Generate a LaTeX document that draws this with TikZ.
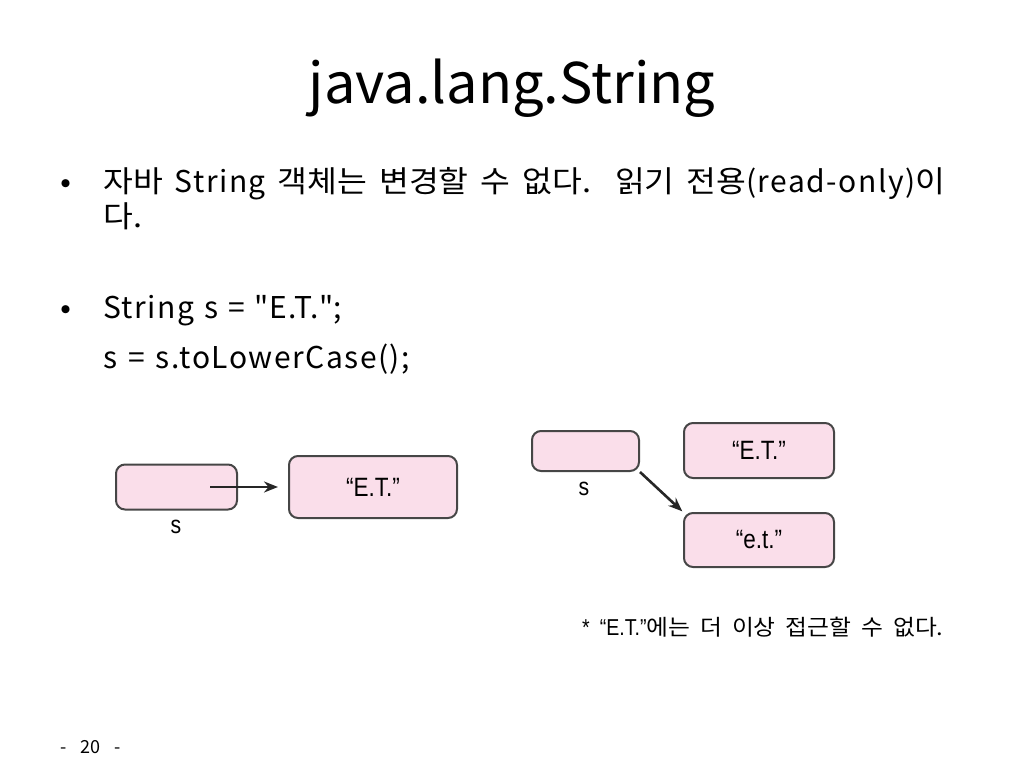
\documentclass[tikz,border=0pt]{standalone}
\usepackage{fontspec}
\setmainfont{Noto Sans CJK KR}[LetterSpace=5]
\newfontfamily\krf{Noto Sans CJK KR}
\newfontfamily\krw{Noto Sans CJK KR}[FakeStretch=1.08]
\newfontfamily\arialf{Liberation Sans}[FakeStretch=0.85]
\usetikzlibrary{arrows.meta}
\definecolor{boxpink}{RGB}{250,222,234}
\definecolor{boxline}{RGB}{70,70,70}
\newcommand\kr[1]{{\krw\fontsize{30}{36}\selectfont #1}}
\newcommand\krs[1]{{\krw\fontsize{22}{26}\selectfont #1}}
\newcommand\wsp[1]{\spaceskip=#1\relax}

\begin{document}
\begin{tikzpicture}[x=1pt,y=-1pt,
    strbox/.style={draw=boxline,fill=boxpink,line width=2pt,rounded corners=9pt,inner sep=0pt,font=\arialf\fontsize{26.5}{30}\selectfont},
    lbl/.style={font=\arialf\fontsize{25}{28}\selectfont},
    ptr/.style={-{Stealth[length=14pt,width=11pt]},line width=2.6pt,draw=black!85},
    txt/.style={anchor=base west,inner sep=0pt,font=\fontsize{30}{36}\selectfont}]
    \useasboundingbox (0,0) rectangle (1024,768);
    % title
    \node (title) at (512,88) {\krf\fontsize{56}{64}\selectfont java.lang.String};
    % bullets
    \node[txt] (b1) at (60,192) {\kr{•}};
    \node[txt] (l1) at (103,192) {\wsp{12pt}\kr{자바} String \kr{객체는 변경할 수 없다.}\ \ \kr{읽기 전용}(read-only)\kr{이}};
    \node[txt] (l2) at (103,227) {\kr{다.}};
    \node[txt] (b2) at (60,318) {\kr{•}};
    \node[txt] (l3) at (103,318) {\wsp{10pt}String s = \textquotedbl E.T.\textquotedbl;};
    \node[txt] (l4) at (103,368) {\wsp{11pt}s = s.toLowerCase();};
    % left picture
    \node[strbox,minimum width=121pt,minimum height=45pt] (s1) at (176.5,487) {};
    \node[lbl] (s1lbl) at (176,527) {s};
    \node[strbox,minimum width=168pt,minimum height=62pt] (et1) at (373,487) {“E.T.”};
    \coordinate (s1ref) at (210,487);
    \draw[ptr,shorten >=10pt] (s1ref) -- (et1.west);
    % right picture
    \node[strbox,minimum width=107pt,minimum height=40pt] (s2) at (585.5,451) {};
    \node[lbl] (s2lbl) at (584,489) {s};
    \node[strbox,minimum width=150pt,minimum height=55pt] (et2) at (759,450.5) {“E.T.”};
    \node[strbox,minimum width=150pt,minimum height=54pt] (lower) at (759,540) {“e.t.”};
    \draw[ptr,shorten >=1pt] (s2.south east) -- (lower.north west);
    % note
    \node[anchor=base west,inner sep=0pt,font=\arialf\fontsize{23}{26}\selectfont] (note) at (582,635) {\wsp{10pt}* “E.T.”\krs{에는 더 이상 접근할 수 없다.}};
    \node[anchor=base west,inner sep=0pt,font=\krf\fontsize{18}{22}\selectfont] (page) at (60,753) {\wsp{14pt}- 20 -};
\end{tikzpicture}
\end{document}
